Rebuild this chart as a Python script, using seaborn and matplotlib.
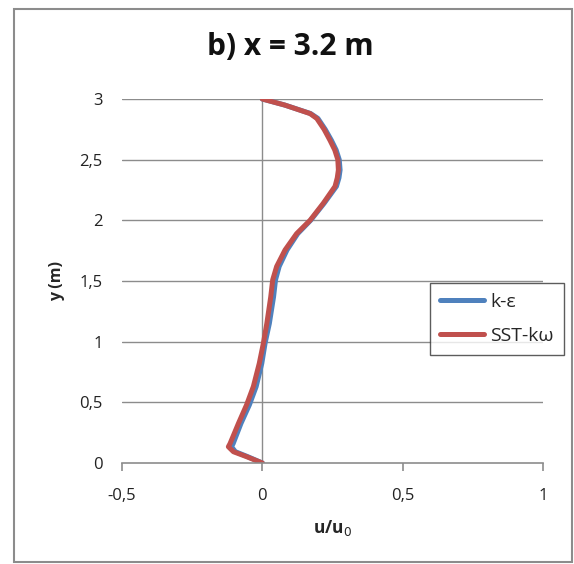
import matplotlib
matplotlib.use("Agg")
import matplotlib.pyplot as plt
import seaborn as sns
import pandas as pd
from matplotlib.patches import Rectangle

sns.set_style("white")
plt.rcParams['font.family'] = ['Open Sans', 'DejaVu Sans']

# Data
y_red = [3.0, 2.95, 2.88, 2.84, 2.75, 2.66, 2.58, 2.50, 2.415, 2.35, 2.28, 2.14,
         2.0, 1.89, 1.756, 1.62, 1.51, 1.37, 1.15, 0.99, 0.82, 0.63, 0.48,
         0.327, 0.16, 0.134, 0.093, 0.052, 0.0]
u_red = [0.0, 0.08, 0.17, 0.194, 0.220, 0.241, 0.258, 0.269, 0.271, 0.267,
         0.259, 0.217, 0.170, 0.122, 0.081, 0.051, 0.037, 0.030, 0.016, 0.004,
         -0.011, -0.032, -0.056, -0.085, -0.115, -0.121, -0.103, -0.056, 0.0]

y_blue = [3.0, 2.95, 2.88, 2.84, 2.75, 2.66, 2.58, 2.50, 2.415, 2.35, 2.28, 2.14,
          2.0, 1.89, 1.756, 1.62, 1.51, 1.37, 1.15, 0.99, 0.82, 0.63, 0.48,
          0.327, 0.16, 0.134, 0.093, 0.052, 0.0]
u_blue = [0.0, 0.08, 0.172, 0.198, 0.224, 0.246, 0.263, 0.274, 0.277, 0.273,
          0.264, 0.220, 0.172, 0.126, 0.088, 0.060, 0.047, 0.040, 0.025, 0.010,
          -0.002, -0.022, -0.046, -0.076, -0.104, -0.110, -0.096, -0.052, 0.0]

x_ticks = [-0.5, 0, 0.5, 1]
x_tick_labels = ["-0,5", "0", "0,5", "1"]
y_ticks = [0, 0.5, 1, 1.5, 2, 2.5, 3]
y_tick_labels = ["0", "0,5", "1", "1,5", "2", "2,5", "3"]

df_blue = pd.DataFrame({"u": u_blue, "y": y_blue})
df_red = pd.DataFrame({"u": u_red, "y": y_red})

W, H = 574, 564
fig = plt.figure(figsize=(W / 100, H / 100), dpi=100)
ax = fig.add_axes([122 / W, 1 - 463 / H, (543 - 122) / W, (463 - 99) / H])

# grid lines
for yt in y_ticks[1:]:
    ax.axhline(yt, color="#8c8c8c", lw=1.0, zorder=0)
ax.axvline(0, color="#8c8c8c", lw=1.0, zorder=0)

sns.lineplot(data=df_blue, x="u", y="y", sort=False, estimator=None, ax=ax,
             color="#4F81BD", lw=3.6, label="k-ε", solid_capstyle="round",
             solid_joinstyle="round")
sns.lineplot(data=df_red, x="u", y="y", sort=False, estimator=None, ax=ax,
             color="#C0504D", lw=3.6, label="SST-kω", solid_capstyle="round",
             solid_joinstyle="round")

ax.set_xlim(-0.5, 1)
ax.set_ylim(0, 3)
ax.set_xticks(x_ticks)
ax.set_xticklabels(x_tick_labels)
ax.set_yticks(y_ticks)
ax.set_yticklabels(y_tick_labels)
for s in ["top", "right", "left"]:
    ax.spines[s].set_visible(False)
ax.spines["bottom"].set_color("#8c8c8c")
ax.spines["bottom"].set_linewidth(1.2)
ax.tick_params(axis="x", direction="out", length=6, width=1.2, color="#8c8c8c",
               labelsize=12, labelcolor="#222222", pad=12, bottom=True)
ax.tick_params(axis="y", length=0, labelsize=12, labelcolor="#222222", pad=14)
ax.set_xlabel("u/u$_0$", fontsize=12.5, fontweight="bold", labelpad=10)
ax.set_ylabel("y (m)", fontsize=11.5, fontweight="bold", labelpad=10)

leg = ax.legend(loc="center left", bbox_to_anchor=(430 / W, 1 - 319 / H),
                bbox_transform=fig.transFigure, frameon=True, fancybox=False,
                fontsize=14, handlelength=2.3, handletextpad=0.3,
                borderpad=0.5, labelspacing=0.85, borderaxespad=0)
leg.get_frame().set_edgecolor("#333333")
leg.get_frame().set_linewidth(1.0)
for l in leg.get_lines():
    l.set_linewidth(3.6)

fig.text(290.5 / W, 1 - 47 / H, "b) x = 3.2 m", ha="center", va="center",
         fontsize=21.5, fontweight="bold", color="#111111")

fig.patches.append(Rectangle((13.5 / W, 1 - 562 / H), (571.5 - 13.5) / W,
                             (562 - 8.5) / H, transform=fig.transFigure,
                             fill=False, edgecolor="#8c8c8c", lw=1.5))

fig.savefig("out.png", dpi=100)
